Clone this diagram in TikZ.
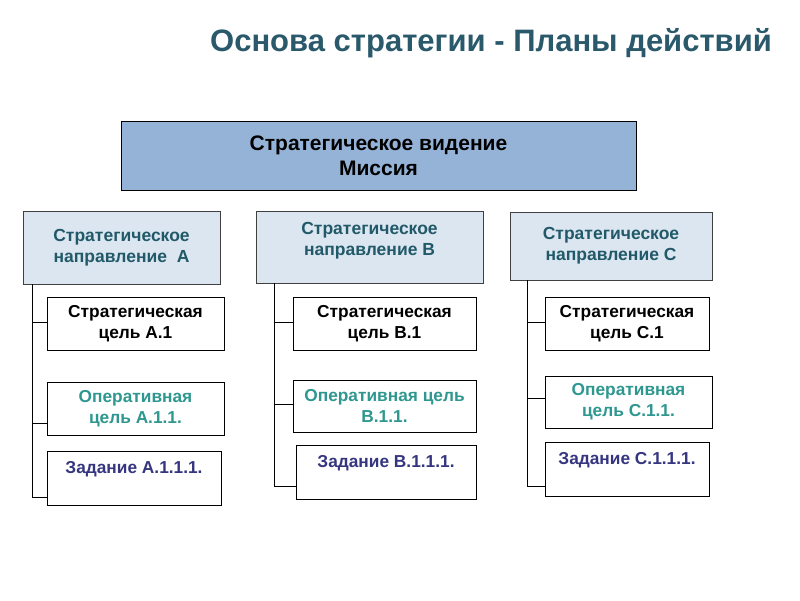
\documentclass[tikz,border=0pt]{standalone}
\usepackage{fontspec}
\setmainfont{Liberation Sans}
\definecolor{titlec}{HTML}{29596A}
\definecolor{topfill}{HTML}{95B3D7}
\definecolor{dirfill}{HTML}{DCE6F1}
\definecolor{dirtext}{HTML}{215968}
\definecolor{optext}{HTML}{2E978F}
\definecolor{tasktext}{HTML}{353580}
\tikzset{
  box/.style={draw=black, line width=0.9pt, rectangle, align=center, inner sep=1pt,
    font=\bfseries\fontsize{17.3}{21}\selectfont},
  topbox/.style={box, fill=topfill, font=\bfseries\fontsize{21}{25}\selectfont},
  dirbox/.style={box, fill=dirfill, draw=black!75, text=dirtext, font=\bfseries\fontsize{17.5}{21}\selectfont},
  goalbox/.style={box, fill=white, text=black},
  opbox/.style={box, fill=white, text=optext},
  taskbox/.style={box, fill=white, text=tasktext},
  conn/.style={draw=black, line width=0.9pt}
}
\begin{document}
\begin{tikzpicture}[x=1pt,y=-1pt]
\useasboundingbox (0,0) rectangle (800,600);
\fill[white] (0,0) rectangle (800,600);
\node[font=\bfseries\fontsize{31}{36}\selectfont, text=titlec] (title) at (491,43) {Основа стратегии - Планы действий};

\node[topbox, minimum width=515, minimum height=69] (top) at (378.5,155.5) {Стратегическое видение\\Миссия};

\node[dirbox, minimum width=197, minimum height=73] (dA) at (121.5,247.5) {Стратегическое\\направление\ \ A};
\node[dirbox, minimum width=227, minimum height=72] (dB) at (369.5,247) {Стратегическое\\направление B\\[-4pt]\mbox{}};
\node[dirbox, minimum width=202, minimum height=68] (dC) at (611,246) {Стратегическое\\направление C};

% column A
\node[goalbox, minimum width=177, minimum height=53] (gA) at (135.5,323.5) {Стратегическая\\цель А.1};
\node[opbox, minimum width=177, minimum height=53] (oA) at (135.5,408.5) {Оперативная\\цель А.1.1.};
\node[taskbox, minimum width=174, minimum height=54] (tA) at (134,478) {Задание А.1.1.1.\\\mbox{}};

% column B
\node[goalbox, minimum width=183, minimum height=53] (gB) at (384.5,323.5) {Стратегическая\\цель В.1};
\node[opbox, minimum width=183, minimum height=52] (oB) at (384.5,406) {Оперативная цель\\В.1.1.};
\node[taskbox, minimum width=180, minimum height=54] (tB) at (386,472) {Задание В.1.1.1.\\\mbox{}};

% column C
\node[goalbox, minimum width=164, minimum height=53] (gC) at (627,323.5) {Стратегическая\\цель С.1};
\node[opbox, minimum width=167, minimum height=52] (oC) at (628.5,402) {Оперативная\\цель С.1.1.};
\node[taskbox, minimum width=164, minimum height=54] (tC) at (627,469) {Задание С.1.1.1.\\\mbox{}};

% trunks
\coordinate (aTop) at (32,284);
\coordinate (aBot) at (32,497);
\coordinate (a1) at (32,322);
\coordinate (a2) at (32,423);
\draw[conn] (aTop) -- (aBot) -- (aBot -| tA.west);
\draw[conn] (a1) -- (a1 -| gA.west);
\draw[conn] (a2) -- (a2 -| oA.west);

\coordinate (bTop) at (274.5,283);
\coordinate (bBot) at (274.5,486);
\coordinate (b1) at (274.5,322);
\coordinate (b2) at (274.5,404);
\draw[conn] (bTop) -- (bBot) -- (bBot -| tB.west);
\draw[conn] (b1) -- (b1 -| gB.west);
\draw[conn] (b2) -- (b2 -| oB.west);

\coordinate (cTop) at (527,280);
\coordinate (cBot) at (527,486);
\coordinate (c1) at (527,322);
\coordinate (c2) at (527,398);
\draw[conn] (cTop) -- (cBot) -- (cBot -| tC.west);
\draw[conn] (c1) -- (c1 -| gC.west);
\draw[conn] (c2) -- (c2 -| oC.west);
\end{tikzpicture}
\end{document}
